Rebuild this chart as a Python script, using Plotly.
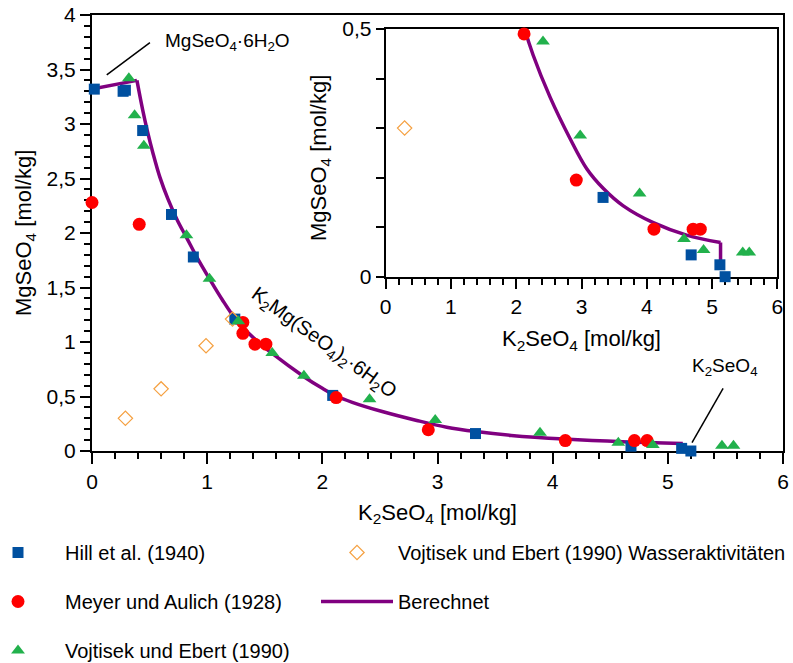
import plotly.graph_objects as go

# ---- data ----
hill_x = [0.02, 0.27, 0.29, 0.44, 0.69, 0.88, 1.24, 2.09, 3.33, 4.68, 5.12, 5.20]
hill_y = [3.32, 3.30, 3.31, 2.94, 2.17, 1.78, 1.21, 0.51, 0.16, 0.044, 0.024, 0.0]

meyer_x = [0.0, 0.41, 1.31, 1.31, 1.415, 1.51, 2.12, 2.92, 4.11, 4.71, 4.82, 5.11]
meyer_y = [2.28, 2.08, 1.18, 1.08, 0.98, 0.98, 0.49, 0.195, 0.096, 0.096, 0.096, -0.005]

voj_x = [0.32, 0.37, 0.45, 0.82, 1.02, 1.27, 1.565, 1.84, 2.41, 2.98, 3.89, 4.57, 4.87, 5.47, 5.57]
voj_y = [3.42, 3.08, 2.80, 1.98, 1.58, 1.19, 0.90, 0.69, 0.475, 0.285, 0.168, 0.076, 0.054, 0.049, 0.049]

wasser_x = [0.29, 0.60, 0.99, 1.22]
wasser_y = [0.30, 0.57, 0.966, 1.21]

# calculated curve, three branches (MgSeO4·6H2O, double salt, K2SeO4)
calc_mg_x = [0.00, 0.39]
calc_mg_y = [3.32, 3.40]
calc_dbl_x = [0.39, 0.44, 0.48, 0.53, 0.59, 0.66, 0.74, 0.82, 0.92, 1.02, 1.13, 1.24, 1.40,
              1.57, 1.85, 2.00, 2.12, 2.26, 2.52, 2.82, 3.08, 3.335, 3.64, 4.10, 4.61, 5.13]
calc_dbl_y = [3.40, 3.13, 2.94, 2.73, 2.51, 2.31, 2.12, 1.96, 1.76, 1.58, 1.39, 1.22, 1.04,
              0.89, 0.675, 0.575, 0.505, 0.447, 0.362, 0.280, 0.218, 0.178, 0.143, 0.109,
              0.084, 0.069]
calc_k_x = [5.13, 5.13]
calc_k_y = [0.069, 0.02]

inset_yticks = [0, 0.5]
inset_yticktext = ["0", "0,5"]

FONT = "Liberation Sans, Arial, sans-serif"
BLUE = "#0050A0"
RED = "#FF0000"
GREEN = "#22B14C"
ORANGE = "#F5A040"
PURPLE = "#800080"

fig = go.Figure()


def add_set(xa, ya, show, filt):
    def f(xs, ys):
        if filt:
            pairs = [(a, b) for a, b in zip(xs, ys) if b <= 0.5]
            return [p[0] for p in pairs], [p[1] for p in pairs]
        return list(xs), list(ys)
    for bx, by, shape, leg in [(calc_mg_x, calc_mg_y, "linear", False),
                               (calc_dbl_x, calc_dbl_y, "spline", show),
                               (calc_k_x, calc_k_y, "linear", False)]:
        fig.add_trace(go.Scatter(x=bx, y=by, mode="lines", name="Berechnet",
                                 line=dict(color=PURPLE, width=3.5, shape=shape, smoothing=1.0),
                                 xaxis=xa, yaxis=ya, showlegend=leg, legend="legend2",
                                 legendrank=2, legendgroup="g5"))
    hx, hy = f(hill_x, hill_y)
    fig.add_trace(go.Scatter(x=hx, y=hy, mode="markers", name="Hill et al. (1940)",
                             marker=dict(symbol="square", size=11, color=BLUE),
                             xaxis=xa, yaxis=ya, showlegend=show, legend="legend",
                             legendrank=1, legendgroup="g1", cliponaxis=False))
    wx, wy = f(wasser_x, wasser_y)
    fig.add_trace(go.Scatter(x=wx, y=wy, mode="markers",
                             name="Vojtisek und Ebert (1990) Wasseraktivitäten",
                             marker=dict(symbol="diamond-open", size=11, color=ORANGE,
                                         line=dict(width=1.2, color=ORANGE)),
                             xaxis=xa, yaxis=ya, showlegend=show, legend="legend2",
                             legendrank=1, legendgroup="g4", cliponaxis=False))
    mx, my = f(meyer_x, meyer_y)
    fig.add_trace(go.Scatter(x=mx, y=my, mode="markers", name="Meyer und Aulich (1928)",
                             marker=dict(symbol="circle", size=13, color=RED),
                             xaxis=xa, yaxis=ya, showlegend=show, legend="legend",
                             legendrank=2, legendgroup="g2", cliponaxis=False))
    vx, vy = f(voj_x, voj_y)
    fig.add_trace(go.Scatter(x=vx, y=vy, mode="markers", name="Vojtisek und Ebert (1990)",
                             marker=dict(symbol="triangle-up", size=12, color=GREEN),
                             xaxis=xa, yaxis=ya, showlegend=show, legend="legend",
                             legendrank=3, legendgroup="g3", cliponaxis=False))


add_set("x", "y", True, False)
add_set("x2", "y2", False, True)

axis_common = dict(showline=True, linecolor="black", linewidth=2, mirror=True,
                   ticks="outside", tickcolor="black", tickwidth=1.5,
                   showgrid=False, zeroline=False, layer="below traces",
                   tickfont=dict(size=21, color="black", family=FONT))
minor_x = dict(tick0=0, dtick=0.2, ticklen=6, ticks="outside", tickcolor="black", tickwidth=1.5,
               showgrid=False)

YTITLE = "MgSeO<sub>4</sub> [mol/kg]"
XTITLE = "K<sub>2</sub>SeO<sub>4</sub> [mol/kg]"

fig.update_layout(
    width=793, height=663,
    margin=dict(l=92, r=10, t=15, b=212, autoexpand=False),
    paper_bgcolor="white", plot_bgcolor="white",
    separators=",.",
    font=dict(family=FONT, size=20, color="black"),
    xaxis=dict(domain=[0, 1], range=[0, 6], tickmode="linear", tick0=0, dtick=1,
               ticklen=11, minor=minor_x,
               title=dict(text=XTITLE, font=dict(size=22), standoff=12),
               **axis_common),
    yaxis=dict(domain=[0, 1], range=[0, 4], tickmode="linear", tick0=0, dtick=0.5, ticklen=10,
               minor=dict(tick0=0, dtick=0.1, ticklen=6, ticks="outside", tickcolor="black",
                          tickwidth=1.5, showgrid=False),
               **axis_common),
    xaxis2=dict(domain=[0.425, 0.9918], range=[0, 6], anchor="y2", tickmode="linear", tick0=0,
                dtick=1, ticklen=10, minor=minor_x,
                title=dict(text=XTITLE, font=dict(size=22), standoff=14),
                **axis_common),
    yaxis2=dict(domain=[0.3998, 0.9679], range=[0, 0.5], anchor="x2", tickmode="array",
                tickvals=inset_yticks, ticktext=inset_yticktext, ticklen=8,
                minor=dict(tick0=0, dtick=0.1, ticklen=8, ticks="outside", tickcolor="black",
                           tickwidth=1.5, showgrid=False),
                **axis_common),
    legend=dict(xref="paper", yref="container", x=(-29 - 92) / 691, y=1 - 533 / 663,
                xanchor="left", yanchor="top", tracegroupgap=20, itemwidth=84,
                font=dict(size=20, family=FONT), bgcolor="rgba(0,0,0,0)"),
    legend2=dict(xref="paper", yref="container", x=(316 - 92) / 691, y=1 - 533 / 663,
                 xanchor="left", yanchor="top", tracegroupgap=20, itemwidth=72,
                 font=dict(size=20, family=FONT), bgcolor="rgba(0,0,0,0)"),
    annotations=[
        dict(x=(25 - 92) / 691, y=0.5, xref="paper", yref="paper", xanchor="center",
             yanchor="middle", text=YTITLE, textangle=-90, showarrow=False, font=dict(size=22)),
        dict(x=(320 - 92) / 691, y=0.672, xref="paper", yref="paper", xanchor="center",
             yanchor="middle", text=YTITLE, textangle=-90, showarrow=False, font=dict(size=22)),
        dict(x=0.619, y=3.75, xref="x", yref="y", xanchor="left", yanchor="middle",
             text="MgSeO<sub>4</sub>·6H<sub>2</sub>O", showarrow=False, font=dict(size=19)),
        dict(x=5.19, y=0.77, xref="x", yref="y", xanchor="left", yanchor="middle",
             text="K<sub>2</sub>SeO<sub>4</sub>", showarrow=False, font=dict(size=19)),
        dict(x=2.014, y=0.99, xref="x", yref="y", xanchor="center", yanchor="middle",
             text="K<sub>2</sub>Mg(SeO<sub>4</sub>)<sub>2</sub>·6H<sub>2</sub>O",
             textangle=36, showarrow=False, font=dict(size=20)),
    ],
    shapes=[
        dict(type="line", xref="x", yref="y", x0=0.128, y0=3.45, x1=0.503, y1=3.746,
             line=dict(color="black", width=1.5)),
        dict(type="line", xref="x", yref="y", x0=5.48, y0=0.575, x1=5.21, y1=0.076,
             line=dict(color="black", width=1.5)),
    ],
)

fig.write_html("out.html")
